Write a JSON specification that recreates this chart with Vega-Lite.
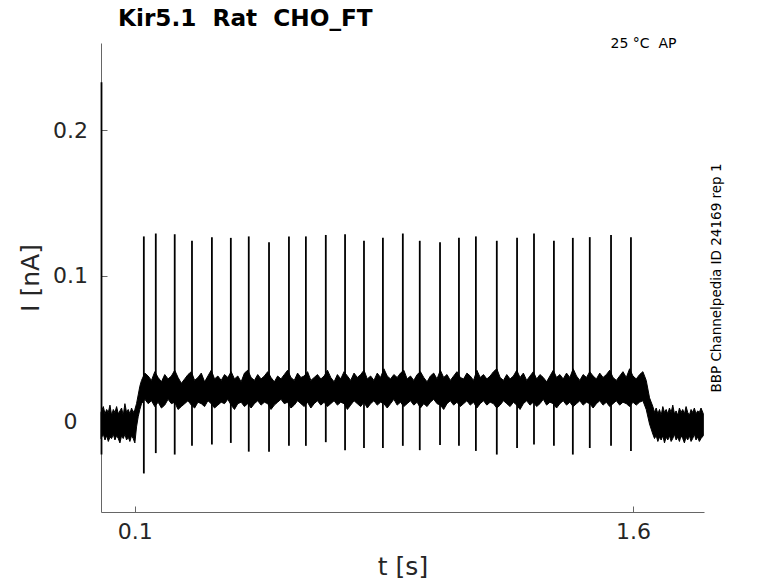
{
  "$schema": "https://vega.github.io/schema/vega-lite/v6.json",
  "autosize": "none",
  "width": 603,
  "height": 469,
  "padding": {"left": 101, "top": 43, "right": 74, "bottom": 71},
  "background": "white",
  "title": {
    "text": "Kir5.1\u00a0\u00a0Rat\u00a0\u00a0CHO_FT",
    "anchor": "start",
    "frame": "group",
    "dx": 17,
    "offset": 5,
    "font": "DejaVu Sans",
    "fontSize": 23.2,
    "fontWeight": "bold",
    "color": "black"
  },
  "config": {
    "view": {"stroke": null},
    "axis": {
      "grid": false,
      "domainColor": "#666666",
      "tickColor": "#666666",
      "labelFont": "DejaVu Sans",
      "labelFontSize": 22,
      "labelColor": "#262626",
      "titleFont": "DejaVu Sans",
      "titleFontSize": 25,
      "titleFontWeight": "normal",
      "titleColor": "#262626"
    }
  },
  "datasets": {
    "band": [
      {"t": -0.002, "lo": -0.012, "hi": 0.006},
      {"t": 0.005, "lo": -0.009, "hi": 0.010},
      {"t": 0.01, "lo": -0.013, "hi": 0.005},
      {"t": 0.015, "lo": -0.010, "hi": 0.008},
      {"t": 0.02, "lo": -0.014, "hi": 0.006},
      {"t": 0.025, "lo": -0.011, "hi": 0.011},
      {"t": 0.03, "lo": -0.012, "hi": 0.004},
      {"t": 0.035, "lo": -0.009, "hi": 0.008},
      {"t": 0.04, "lo": -0.013, "hi": 0.006},
      {"t": 0.045, "lo": -0.010, "hi": 0.010},
      {"t": 0.05, "lo": -0.012, "hi": 0.005},
      {"t": 0.055, "lo": -0.015, "hi": 0.007},
      {"t": 0.06, "lo": -0.010, "hi": 0.009},
      {"t": 0.065, "lo": -0.012, "hi": 0.004},
      {"t": 0.07, "lo": -0.009, "hi": 0.012},
      {"t": 0.075, "lo": -0.013, "hi": 0.006},
      {"t": 0.08, "lo": -0.011, "hi": 0.008},
      {"t": 0.085, "lo": -0.014, "hi": 0.005},
      {"t": 0.09, "lo": -0.010, "hi": 0.009},
      {"t": 0.095, "lo": -0.012, "hi": 0.006},
      {"t": 0.10, "lo": -0.015, "hi": 0.008},
      {"t": 0.105, "lo": -0.004, "hi": 0.012},
      {"t": 0.11, "lo": 0.003, "hi": 0.018},
      {"t": 0.115, "lo": 0.008, "hi": 0.024},
      {"t": 0.12, "lo": 0.012, "hi": 0.028},
      {"t": 0.13, "lo": 0.015, "hi": 0.033},
      {"t": 0.14, "lo": 0.012, "hi": 0.031},
      {"t": 0.15, "lo": 0.014, "hi": 0.028},
      {"t": 0.16, "lo": 0.010, "hi": 0.034},
      {"t": 0.17, "lo": 0.013, "hi": 0.030},
      {"t": 0.18, "lo": 0.009, "hi": 0.027},
      {"t": 0.19, "lo": 0.011, "hi": 0.032},
      {"t": 0.20, "lo": 0.015, "hi": 0.029},
      {"t": 0.21, "lo": 0.012, "hi": 0.031},
      {"t": 0.22, "lo": 0.013, "hi": 0.035},
      {"t": 0.23, "lo": 0.008, "hi": 0.030},
      {"t": 0.24, "lo": 0.010, "hi": 0.026},
      {"t": 0.25, "lo": 0.012, "hi": 0.029},
      {"t": 0.26, "lo": 0.014, "hi": 0.032},
      {"t": 0.27, "lo": 0.011, "hi": 0.034},
      {"t": 0.28, "lo": 0.009, "hi": 0.028},
      {"t": 0.29, "lo": 0.013, "hi": 0.030},
      {"t": 0.30, "lo": 0.012, "hi": 0.033},
      {"t": 0.31, "lo": 0.010, "hi": 0.027},
      {"t": 0.32, "lo": 0.014, "hi": 0.031},
      {"t": 0.33, "lo": 0.012, "hi": 0.035},
      {"t": 0.34, "lo": 0.009, "hi": 0.029},
      {"t": 0.35, "lo": 0.011, "hi": 0.031},
      {"t": 0.36, "lo": 0.013, "hi": 0.028},
      {"t": 0.37, "lo": 0.012, "hi": 0.032},
      {"t": 0.38, "lo": 0.015, "hi": 0.030},
      {"t": 0.39, "lo": 0.011, "hi": 0.034},
      {"t": 0.40, "lo": 0.008, "hi": 0.029},
      {"t": 0.41, "lo": 0.012, "hi": 0.031},
      {"t": 0.42, "lo": 0.013, "hi": 0.027},
      {"t": 0.43, "lo": 0.010, "hi": 0.033},
      {"t": 0.44, "lo": 0.012, "hi": 0.035},
      {"t": 0.45, "lo": 0.009, "hi": 0.030},
      {"t": 0.46, "lo": 0.012, "hi": 0.028},
      {"t": 0.47, "lo": 0.014, "hi": 0.032},
      {"t": 0.48, "lo": 0.011, "hi": 0.029},
      {"t": 0.49, "lo": 0.013, "hi": 0.031},
      {"t": 0.50, "lo": 0.012, "hi": 0.034},
      {"t": 0.51, "lo": 0.008, "hi": 0.030},
      {"t": 0.52, "lo": 0.011, "hi": 0.027},
      {"t": 0.53, "lo": 0.013, "hi": 0.031},
      {"t": 0.54, "lo": 0.015, "hi": 0.029},
      {"t": 0.55, "lo": 0.012, "hi": 0.032},
      {"t": 0.56, "lo": 0.013, "hi": 0.035},
      {"t": 0.57, "lo": 0.009, "hi": 0.030},
      {"t": 0.58, "lo": 0.011, "hi": 0.028},
      {"t": 0.59, "lo": 0.014, "hi": 0.033},
      {"t": 0.60, "lo": 0.012, "hi": 0.030},
      {"t": 0.61, "lo": 0.010, "hi": 0.031},
      {"t": 0.62, "lo": 0.013, "hi": 0.034},
      {"t": 0.63, "lo": 0.009, "hi": 0.028},
      {"t": 0.64, "lo": 0.012, "hi": 0.030},
      {"t": 0.65, "lo": 0.014, "hi": 0.032},
      {"t": 0.66, "lo": 0.011, "hi": 0.029},
      {"t": 0.67, "lo": 0.013, "hi": 0.031},
      {"t": 0.68, "lo": 0.010, "hi": 0.035},
      {"t": 0.69, "lo": 0.012, "hi": 0.030},
      {"t": 0.70, "lo": 0.014, "hi": 0.027},
      {"t": 0.71, "lo": 0.011, "hi": 0.032},
      {"t": 0.72, "lo": 0.013, "hi": 0.029},
      {"t": 0.73, "lo": 0.012, "hi": 0.034},
      {"t": 0.74, "lo": 0.008, "hi": 0.031},
      {"t": 0.75, "lo": 0.011, "hi": 0.028},
      {"t": 0.76, "lo": 0.014, "hi": 0.033},
      {"t": 0.77, "lo": 0.012, "hi": 0.030},
      {"t": 0.78, "lo": 0.010, "hi": 0.032},
      {"t": 0.79, "lo": 0.013, "hi": 0.035},
      {"t": 0.80, "lo": 0.009, "hi": 0.029},
      {"t": 0.81, "lo": 0.012, "hi": 0.031},
      {"t": 0.82, "lo": 0.014, "hi": 0.028},
      {"t": 0.83, "lo": 0.011, "hi": 0.033},
      {"t": 0.84, "lo": 0.013, "hi": 0.030},
      {"t": 0.85, "lo": 0.012, "hi": 0.036},
      {"t": 0.86, "lo": 0.009, "hi": 0.031},
      {"t": 0.87, "lo": 0.012, "hi": 0.029},
      {"t": 0.88, "lo": 0.015, "hi": 0.032},
      {"t": 0.89, "lo": 0.011, "hi": 0.030},
      {"t": 0.90, "lo": 0.013, "hi": 0.033},
      {"t": 0.91, "lo": 0.010, "hi": 0.035},
      {"t": 0.92, "lo": 0.012, "hi": 0.029},
      {"t": 0.93, "lo": 0.014, "hi": 0.031},
      {"t": 0.94, "lo": 0.011, "hi": 0.028},
      {"t": 0.95, "lo": 0.013, "hi": 0.032},
      {"t": 0.96, "lo": 0.009, "hi": 0.034},
      {"t": 0.97, "lo": 0.012, "hi": 0.030},
      {"t": 0.98, "lo": 0.010, "hi": 0.027},
      {"t": 0.99, "lo": 0.013, "hi": 0.031},
      {"t": 1.00, "lo": 0.015, "hi": 0.033},
      {"t": 1.01, "lo": 0.012, "hi": 0.029},
      {"t": 1.02, "lo": 0.011, "hi": 0.035},
      {"t": 1.03, "lo": 0.008, "hi": 0.030},
      {"t": 1.04, "lo": 0.012, "hi": 0.032},
      {"t": 1.05, "lo": 0.014, "hi": 0.028},
      {"t": 1.06, "lo": 0.011, "hi": 0.031},
      {"t": 1.07, "lo": 0.013, "hi": 0.034},
      {"t": 1.08, "lo": 0.010, "hi": 0.030},
      {"t": 1.09, "lo": 0.012, "hi": 0.029},
      {"t": 1.10, "lo": 0.014, "hi": 0.033},
      {"t": 1.11, "lo": 0.011, "hi": 0.031},
      {"t": 1.12, "lo": 0.013, "hi": 0.028},
      {"t": 1.13, "lo": 0.009, "hi": 0.035},
      {"t": 1.14, "lo": 0.012, "hi": 0.030},
      {"t": 1.15, "lo": 0.014, "hi": 0.032},
      {"t": 1.16, "lo": 0.011, "hi": 0.029},
      {"t": 1.17, "lo": 0.013, "hi": 0.031},
      {"t": 1.18, "lo": 0.012, "hi": 0.034},
      {"t": 1.19, "lo": 0.009, "hi": 0.036},
      {"t": 1.20, "lo": 0.011, "hi": 0.030},
      {"t": 1.21, "lo": 0.014, "hi": 0.028},
      {"t": 1.22, "lo": 0.012, "hi": 0.032},
      {"t": 1.23, "lo": 0.010, "hi": 0.029},
      {"t": 1.24, "lo": 0.013, "hi": 0.031},
      {"t": 1.25, "lo": 0.011, "hi": 0.035},
      {"t": 1.26, "lo": 0.008, "hi": 0.030},
      {"t": 1.27, "lo": 0.012, "hi": 0.033},
      {"t": 1.28, "lo": 0.014, "hi": 0.028},
      {"t": 1.29, "lo": 0.011, "hi": 0.031},
      {"t": 1.30, "lo": 0.013, "hi": 0.034},
      {"t": 1.31, "lo": 0.010, "hi": 0.029},
      {"t": 1.32, "lo": 0.012, "hi": 0.032},
      {"t": 1.33, "lo": 0.015, "hi": 0.030},
      {"t": 1.34, "lo": 0.011, "hi": 0.027},
      {"t": 1.35, "lo": 0.013, "hi": 0.031},
      {"t": 1.36, "lo": 0.012, "hi": 0.035},
      {"t": 1.37, "lo": 0.009, "hi": 0.030},
      {"t": 1.38, "lo": 0.012, "hi": 0.032},
      {"t": 1.39, "lo": 0.014, "hi": 0.029},
      {"t": 1.40, "lo": 0.011, "hi": 0.033},
      {"t": 1.41, "lo": 0.013, "hi": 0.030},
      {"t": 1.42, "lo": 0.010, "hi": 0.036},
      {"t": 1.43, "lo": 0.012, "hi": 0.031},
      {"t": 1.44, "lo": 0.014, "hi": 0.028},
      {"t": 1.45, "lo": 0.011, "hi": 0.032},
      {"t": 1.46, "lo": 0.013, "hi": 0.030},
      {"t": 1.47, "lo": 0.012, "hi": 0.034},
      {"t": 1.48, "lo": 0.009, "hi": 0.031},
      {"t": 1.49, "lo": 0.012, "hi": 0.029},
      {"t": 1.50, "lo": 0.014, "hi": 0.033},
      {"t": 1.51, "lo": 0.011, "hi": 0.030},
      {"t": 1.52, "lo": 0.013, "hi": 0.032},
      {"t": 1.53, "lo": 0.010, "hi": 0.035},
      {"t": 1.54, "lo": 0.012, "hi": 0.030},
      {"t": 1.55, "lo": 0.014, "hi": 0.028},
      {"t": 1.56, "lo": 0.011, "hi": 0.031},
      {"t": 1.57, "lo": 0.013, "hi": 0.034},
      {"t": 1.58, "lo": 0.012, "hi": 0.030},
      {"t": 1.59, "lo": 0.010, "hi": 0.036},
      {"t": 1.60, "lo": 0.013, "hi": 0.031},
      {"t": 1.61, "lo": 0.011, "hi": 0.029},
      {"t": 1.62, "lo": 0.013, "hi": 0.032},
      {"t": 1.63, "lo": 0.014, "hi": 0.034},
      {"t": 1.64, "lo": 0.008, "hi": 0.028},
      {"t": 1.65, "lo": -0.002, "hi": 0.016},
      {"t": 1.66, "lo": -0.009, "hi": 0.010},
      {"t": 1.665, "lo": -0.012, "hi": 0.006},
      {"t": 1.67, "lo": -0.010, "hi": 0.009},
      {"t": 1.675, "lo": -0.014, "hi": 0.005},
      {"t": 1.68, "lo": -0.011, "hi": 0.008},
      {"t": 1.685, "lo": -0.013, "hi": 0.004},
      {"t": 1.69, "lo": -0.010, "hi": 0.010},
      {"t": 1.695, "lo": -0.015, "hi": 0.006},
      {"t": 1.70, "lo": -0.011, "hi": 0.008},
      {"t": 1.705, "lo": -0.013, "hi": 0.005},
      {"t": 1.71, "lo": -0.010, "hi": 0.009},
      {"t": 1.715, "lo": -0.014, "hi": 0.006},
      {"t": 1.72, "lo": -0.012, "hi": 0.011},
      {"t": 1.725, "lo": -0.009, "hi": 0.005},
      {"t": 1.73, "lo": -0.013, "hi": 0.007},
      {"t": 1.735, "lo": -0.011, "hi": 0.004},
      {"t": 1.74, "lo": -0.014, "hi": 0.009},
      {"t": 1.745, "lo": -0.010, "hi": 0.006},
      {"t": 1.75, "lo": -0.012, "hi": 0.008},
      {"t": 1.755, "lo": -0.015, "hi": 0.005},
      {"t": 1.76, "lo": -0.011, "hi": 0.010},
      {"t": 1.765, "lo": -0.013, "hi": 0.006},
      {"t": 1.77, "lo": -0.010, "hi": 0.004},
      {"t": 1.775, "lo": -0.014, "hi": 0.008},
      {"t": 1.78, "lo": -0.012, "hi": 0.006},
      {"t": 1.785, "lo": -0.009, "hi": 0.009},
      {"t": 1.79, "lo": -0.013, "hi": 0.005},
      {"t": 1.795, "lo": -0.011, "hi": 0.007},
      {"t": 1.80, "lo": -0.014, "hi": 0.006},
      {"t": 1.805, "lo": -0.012, "hi": 0.009},
      {"t": 1.812, "lo": -0.010, "hi": 0.005}
    ],
    "spikes": [
      {"t": -0.0005, "bottom": -0.023, "top": 0.233},
      {"t": 0.127, "bottom": -0.036, "top": 0.127},
      {"t": 0.163, "bottom": -0.022, "top": 0.129},
      {"t": 0.220, "bottom": -0.023, "top": 0.1285},
      {"t": 0.272, "bottom": -0.017, "top": 0.124},
      {"t": 0.332, "bottom": -0.016, "top": 0.1265},
      {"t": 0.389, "bottom": -0.015, "top": 0.126},
      {"t": 0.443, "bottom": -0.021, "top": 0.127},
      {"t": 0.504, "bottom": -0.021, "top": 0.123},
      {"t": 0.564, "bottom": -0.017, "top": 0.127},
      {"t": 0.615, "bottom": -0.017, "top": 0.127},
      {"t": 0.675, "bottom": -0.0145, "top": 0.128},
      {"t": 0.733, "bottom": -0.020, "top": 0.1285},
      {"t": 0.790, "bottom": -0.0185, "top": 0.124},
      {"t": 0.847, "bottom": -0.0185, "top": 0.126},
      {"t": 0.907, "bottom": -0.017, "top": 0.129},
      {"t": 0.958, "bottom": -0.020, "top": 0.124},
      {"t": 1.019, "bottom": -0.0165, "top": 0.123},
      {"t": 1.076, "bottom": -0.017, "top": 0.126},
      {"t": 1.127, "bottom": -0.0205, "top": 0.127},
      {"t": 1.190, "bottom": -0.023, "top": 0.124},
      {"t": 1.251, "bottom": -0.0185, "top": 0.126},
      {"t": 1.302, "bottom": -0.016, "top": 0.129},
      {"t": 1.362, "bottom": -0.017, "top": 0.124},
      {"t": 1.419, "bottom": -0.023, "top": 0.126},
      {"t": 1.470, "bottom": -0.0185, "top": 0.1265},
      {"t": 1.534, "bottom": -0.017, "top": 0.128},
      {"t": 1.594, "bottom": -0.0205, "top": 0.1265}
    ]
  },
  "layer": [
    {
      "data": {"name": "band"},
      "mark": {"type": "area", "color": "black", "stroke": "black", "strokeWidth": 1, "opacity": 1},
      "encoding": {
        "x": {
          "field": "t",
          "type": "quantitative",
          "scale": {"domain": [-0.002, 1.814], "nice": false, "zero": false},
          "axis": {
            "orient": "bottom",
            "values": [0.1, 1.6],
            "format": ".1f",
            "title": "t [s]",
            "tickSize": -6,
            "labelPadding": 15,
            "titlePadding": 12
          }
        },
        "y": {
          "field": "lo",
          "type": "quantitative",
          "scale": {"domain": [-0.0625, 0.26], "nice": false, "zero": false},
          "axis": {
            "orient": "left",
            "values": [0, 0.1, 0.2],
            "labelExpr": "datum.value === 0 ? '0' : format(datum.value, '.1f')",
            "title": "I [nA]",
            "tickSize": -6,
            "labelAlign": "center",
            "labelPadding": 37,
            "titlePadding": 9
          }
        },
        "y2": {"field": "hi"}
      }
    },
    {
      "data": {"name": "spikes"},
      "mark": {"type": "rule", "color": "black", "strokeWidth": 1.8},
      "encoding": {
        "x": {
          "field": "t",
          "type": "quantitative",
          "axis": {
            "orient": "top",
            "domain": false,
            "ticks": false,
            "labels": false,
            "title": "25 °C\u00a0\u00a0AP",
            "titleFontSize": 14,
            "titleColor": "black",
            "titleAlign": "right",
            "titleBaseline": "alphabetic",
            "titleX": 575,
            "titleY": 4
          }
        },
        "y": {
          "field": "bottom",
          "type": "quantitative",
          "axis": {
            "orient": "right",
            "domain": false,
            "ticks": false,
            "labels": false,
            "title": "BBP Channelpedia ID 24169 rep 1",
            "titleFontSize": 13.5,
            "titleColor": "black",
            "titleAngle": 270,
            "titlePadding": 19
          }
        },
        "y2": {"field": "top"}
      }
    }
  ],
  "resolve": {"axis": {"x": "independent", "y": "independent"}}
}
